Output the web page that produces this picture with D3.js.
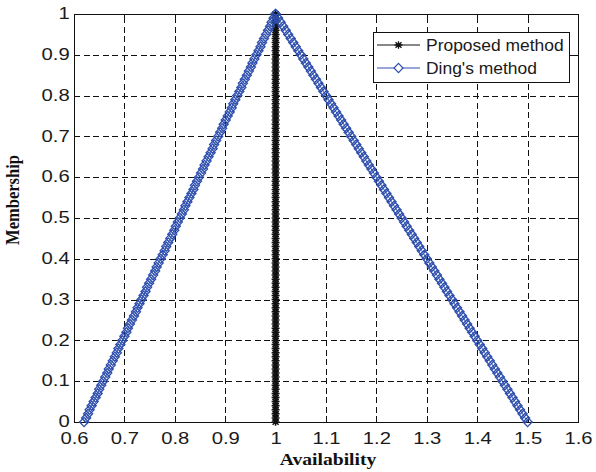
<!DOCTYPE html>
<html>
<head>
<meta charset="utf-8">
<script src="https://cdn.jsdelivr.net/npm/d3@7"></script>
<style>
  body { margin: 0; background: #fff; }
  svg { display: block; }
</style>
</head>
<body>
<svg id="chart" width="596" height="472"></svg>
<script>
// Axis ticks
const xTicks = [0.6, 0.7, 0.8, 0.9, 1.0, 1.1, 1.2, 1.3, 1.4, 1.5, 1.6];
const xTickLabels = ["0.6", "0.7", "0.8", "0.9", "1", "1.1", "1.2", "1.3", "1.4", "1.5", "1.6"];
const yTicks = [0, 0.1, 0.2, 0.3, 0.4, 0.5, 0.6, 0.7, 0.8, 0.9, 1.0];
const yTickLabels = ["0", "0.1", "0.2", "0.3", "0.4", "0.5", "0.6", "0.7", "0.8", "0.9", "1"];

// Membership levels (alpha-cuts)
const membership = [
  0.00, 0.01, 0.02, 0.03, 0.04, 0.05, 0.06, 0.07, 0.08, 0.09,
  0.10, 0.11, 0.12, 0.13, 0.14, 0.15, 0.16, 0.17, 0.18, 0.19,
  0.20, 0.21, 0.22, 0.23, 0.24, 0.25, 0.26, 0.27, 0.28, 0.29,
  0.30, 0.31, 0.32, 0.33, 0.34, 0.35, 0.36, 0.37, 0.38, 0.39,
  0.40, 0.41, 0.42, 0.43, 0.44, 0.45, 0.46, 0.47, 0.48, 0.49,
  0.50, 0.51, 0.52, 0.53, 0.54, 0.55, 0.56, 0.57, 0.58, 0.59,
  0.60, 0.61, 0.62, 0.63, 0.64, 0.65, 0.66, 0.67, 0.68, 0.69,
  0.70, 0.71, 0.72, 0.73, 0.74, 0.75, 0.76, 0.77, 0.78, 0.79,
  0.80, 0.81, 0.82, 0.83, 0.84, 0.85, 0.86, 0.87, 0.88, 0.89,
  0.90, 0.91, 0.92, 0.93, 0.94, 0.95, 0.96, 0.97, 0.98, 0.99,
  1.00
];

// Proposed method: crisp availability at every level
const proposedAvailability = [
  1, 1, 1, 1, 1, 1, 1, 1, 1, 1,
  1, 1, 1, 1, 1, 1, 1, 1, 1, 1,
  1, 1, 1, 1, 1, 1, 1, 1, 1, 1,
  1, 1, 1, 1, 1, 1, 1, 1, 1, 1,
  1, 1, 1, 1, 1, 1, 1, 1, 1, 1,
  1, 1, 1, 1, 1, 1, 1, 1, 1, 1,
  1, 1, 1, 1, 1, 1, 1, 1, 1, 1,
  1, 1, 1, 1, 1, 1, 1, 1, 1, 1,
  1, 1, 1, 1, 1, 1, 1, 1, 1, 1,
  1, 1, 1, 1, 1, 1, 1, 1, 1, 1,
  1
];

// Ding's method: left bound of each alpha-cut
const dingLower = [
  0.620, 0.624, 0.628, 0.631, 0.635, 0.639, 0.643, 0.647, 0.650, 0.654,
  0.658, 0.662, 0.666, 0.669, 0.673, 0.677, 0.681, 0.685, 0.688, 0.692,
  0.696, 0.700, 0.704, 0.707, 0.711, 0.715, 0.719, 0.723, 0.726, 0.730,
  0.734, 0.738, 0.742, 0.745, 0.749, 0.753, 0.757, 0.761, 0.764, 0.768,
  0.772, 0.776, 0.780, 0.783, 0.787, 0.791, 0.795, 0.799, 0.802, 0.806,
  0.810, 0.814, 0.818, 0.821, 0.825, 0.829, 0.833, 0.837, 0.840, 0.844,
  0.848, 0.852, 0.856, 0.859, 0.863, 0.867, 0.871, 0.875, 0.878, 0.882,
  0.886, 0.890, 0.894, 0.897, 0.901, 0.905, 0.909, 0.913, 0.916, 0.920,
  0.924, 0.928, 0.932, 0.935, 0.939, 0.943, 0.947, 0.951, 0.954, 0.958,
  0.962, 0.966, 0.970, 0.973, 0.977, 0.981, 0.985, 0.989, 0.992, 0.996,
  1.000
];

// Ding's method: right bound of each alpha-cut
const dingUpper = [
  1.500, 1.495, 1.490, 1.485, 1.480, 1.475, 1.470, 1.465, 1.460, 1.455,
  1.450, 1.445, 1.440, 1.435, 1.430, 1.425, 1.420, 1.415, 1.410, 1.405,
  1.400, 1.395, 1.390, 1.385, 1.380, 1.375, 1.370, 1.365, 1.360, 1.355,
  1.350, 1.345, 1.340, 1.335, 1.330, 1.325, 1.320, 1.315, 1.310, 1.305,
  1.300, 1.295, 1.290, 1.285, 1.280, 1.275, 1.270, 1.265, 1.260, 1.255,
  1.250, 1.245, 1.240, 1.235, 1.230, 1.225, 1.220, 1.215, 1.210, 1.205,
  1.200, 1.195, 1.190, 1.185, 1.180, 1.175, 1.170, 1.165, 1.160, 1.155,
  1.150, 1.145, 1.140, 1.135, 1.130, 1.125, 1.120, 1.115, 1.110, 1.105,
  1.100, 1.095, 1.090, 1.085, 1.080, 1.075, 1.070, 1.065, 1.060, 1.055,
  1.050, 1.045, 1.040, 1.035, 1.030, 1.025, 1.020, 1.015, 1.010, 1.005,
  1.000
];

const seriesNames = ["Proposed method", "Ding's method"];
const seriesColors = ["#111111", "#2e4fae"];

// Layout
const plot = { left: 74, right: 578, top: 14, bottom: 422 };
const textStretch = 1.19;   // horizontal stretch of the printed lettering

const svg = d3.select("#chart");

const x = d3.scaleLinear().domain([0.6, 1.6]).range([plot.left, plot.right]);
const y = d3.scaleLinear().domain([0, 1]).range([plot.bottom, plot.top]);

// Dashed grid
const grid = svg.append("g").attr("class", "grid");
grid.append("g")
  .attr("transform", `translate(0,${plot.bottom})`)
  .call(d3.axisBottom(x).tickValues(xTicks).tickSize(-(plot.bottom - plot.top)).tickFormat(""))
  .call(g => g.select(".domain").remove());
grid.append("g")
  .attr("transform", `translate(${plot.left},0)`)
  .call(d3.axisLeft(y).tickValues(yTicks).tickSize(-(plot.right - plot.left)).tickFormat(""))
  .call(g => g.select(".domain").remove());
grid.selectAll("line")
  .attr("stroke", "#222")
  .attr("stroke-width", 1)
  .attr("stroke-dasharray", "6,3.5")
  .attr("shape-rendering", "crispEdges");

// Axes with inward ticks on all four sides
const tickLen = 5;
const fontSans = "'Liberation Sans', Arial, Helvetica, sans-serif";

const xAxisG = svg.append("g")
  .attr("transform", `translate(0,${plot.bottom})`)
  .call(d3.axisBottom(x).tickValues(xTicks)
    .tickFormat((d, i) => xTickLabels[i])
    .tickSize(-tickLen).tickPadding(10));
xAxisG.selectAll("text")
  .attr("transform", `scale(${textStretch},1)`);

const yAxisG = svg.append("g")
  .attr("transform", `translate(${plot.left},0)`)
  .call(d3.axisLeft(y).tickValues(yTicks)
    .tickFormat((d, i) => yTickLabels[i])
    .tickSize(-tickLen).tickPadding(3.6));
yAxisG.selectAll("text")
  .attr("dy", "0.28em")
  .attr("transform", `scale(${textStretch},1)`);

svg.append("g")
  .attr("transform", `translate(0,${plot.top})`)
  .call(d3.axisTop(x).tickValues(xTicks).tickSize(-tickLen).tickFormat(""));
svg.append("g")
  .attr("transform", `translate(${plot.right},0)`)
  .call(d3.axisRight(y).tickValues(yTicks).tickSize(-tickLen).tickFormat(""));

svg.selectAll(".tick text")
  .attr("font-family", fontSans)
  .attr("font-size", 17)
  .attr("fill", "#1a1a1a");
svg.selectAll(".domain").remove();
svg.selectAll(".tick line").attr("stroke", "#111").attr("shape-rendering", "crispEdges");

// Frame
svg.append("rect")
  .attr("x", plot.left).attr("y", plot.top)
  .attr("width", plot.right - plot.left).attr("height", plot.bottom - plot.top)
  .attr("fill", "none").attr("stroke", "#111").attr("stroke-width", 1)
  .attr("shape-rendering", "crispEdges");

// Marker shapes
const starPath = "M-4,0H4M0,-3.8V3.8M-3,-2.8L3,2.8M-3,2.8L3,-2.8";
const diamondPath = "M0,-4.6L4.5,0L0,4.6L-4.5,0Z";

const line = d3.line().x(d => x(d[0])).y(d => y(d[1]));

// Proposed method series
const proposedPts = membership.map((m, i) => [proposedAvailability[i], m]);
svg.append("path")
  .attr("d", line(proposedPts))
  .attr("fill", "none").attr("stroke", seriesColors[0]).attr("stroke-width", 1);
svg.append("g").selectAll("path")
  .data(proposedPts).join("path")
  .attr("transform", d => `translate(${x(d[0])},${y(d[1])})`)
  .attr("d", starPath)
  .attr("fill", "none").attr("stroke", seriesColors[0]).attr("stroke-width", 1.5);

// Ding's method series: rising flank then falling flank
const dingPts = membership.map((m, i) => [dingLower[i], m])
  .concat(membership.map((m, i) => [dingUpper[i], m]).reverse());
svg.append("path")
  .attr("d", line(dingPts))
  .attr("fill", "none").attr("stroke", seriesColors[1]).attr("stroke-width", 1);
svg.append("g").selectAll("path")
  .data(dingPts).join("path")
  .attr("transform", d => `translate(${x(d[0])},${y(d[1])})`)
  .attr("d", diamondPath)
  .attr("fill", "none").attr("stroke", seriesColors[1]).attr("stroke-width", 1.35);

// Axis titles
const fontSerif = "'Liberation Serif', 'Times New Roman', Times, serif";
svg.append("text")
  .attr("transform", `translate(328,465) scale(${textStretch},1)`)
  .attr("text-anchor", "middle")
  .attr("font-family", fontSerif).attr("font-weight", "bold").attr("font-size", 16.5)
  .attr("fill", "#111")
  .text("Availability");
svg.append("text")
  .attr("transform", `translate(19,200) scale(${textStretch},1) rotate(-90)`)
  .attr("text-anchor", "middle")
  .attr("font-family", fontSerif).attr("font-weight", "bold").attr("font-size", 16.5)
  .attr("fill", "#111")
  .text("Membership");

// Legend
const legend = svg.append("g");
legend.append("rect")
  .attr("x", 373).attr("y", 32).attr("width", 196).attr("height", 50)
  .attr("fill", "#fff").attr("stroke", "#111").attr("stroke-width", 1)
  .attr("shape-rendering", "crispEdges");
const legendRows = [45, 68];
const legendMarks = [starPath, diamondPath];
seriesNames.forEach((name, i) => {
  const ly = legendRows[i];
  legend.append("line")
    .attr("x1", 377).attr("x2", 420).attr("y1", ly).attr("y2", ly)
    .attr("stroke", seriesColors[i]).attr("stroke-width", 1);
  legend.append("path")
    .attr("transform", `translate(398.5,${ly})`)
    .attr("d", legendMarks[i])
    .attr("fill", i === 1 ? "#fff" : "none")
    .attr("stroke", seriesColors[i]).attr("stroke-width", i === 1 ? 1.2 : 1.3);
  legend.append("text")
    .attr("transform", `translate(426,${ly}) scale(1.07,1)`)
    .attr("dy", "0.36em")
    .attr("font-family", fontSans).attr("font-size", 16.3)
    .attr("fill", "#1a1a1a")
    .text(name);
});
</script>
</body>
</html>
